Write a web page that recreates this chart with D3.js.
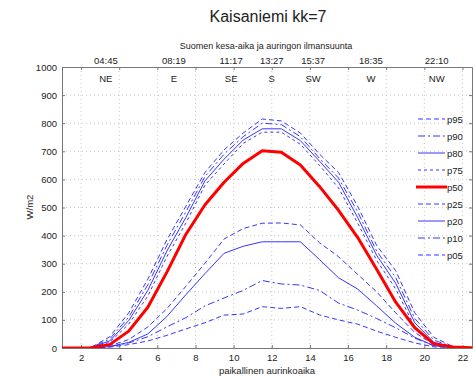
<!DOCTYPE html>
<html lang="fi">
<head>
<meta charset="UTF-8">
<title>Kaisaniemi kk=7</title>
<script src="https://cdn.jsdelivr.net/npm/d3@7"></script>
<style>
  body { margin: 0; background: #fff; }
  text { font-family: "Liberation Sans", Arial, sans-serif; fill: #222; }
</style>
</head>
<body>
<script>

// hourly values at solar time hh:30
var hours = [0.5, 1.5, 2.5, 3.5, 4.5, 5.5, 6.5, 7.5, 8.5, 9.5, 10.5, 11.5,
             12.5, 13.5, 14.5, 15.5, 16.5, 17.5, 18.5, 19.5, 20.5, 21.5, 22.5, 23.5];

var p95 = [0, 0, 1, 40, 125, 245, 385, 505, 625, 705, 765, 815, 808, 765, 690, 625, 505, 365, 275, 125, 38, 5, 0, 0];
var p90 = [0, 0, 1, 32, 110, 225, 365, 485, 610, 690, 752, 800, 795, 752, 675, 605, 485, 345, 250, 105, 28, 4, 0, 0];
var p80 = [0, 0, 1, 25, 98, 205, 345, 465, 595, 672, 740, 780, 780, 738, 665, 590, 465, 330, 230, 90, 20, 3, 0, 0];
var p75 = [0, 0, 0, 20, 85, 185, 325, 445, 580, 655, 728, 768, 768, 725, 650, 570, 445, 312, 210, 75, 14, 2, 0, 0];
var p50 = [0, 0, 1, 12, 60, 145, 270, 405, 510, 590, 657, 702, 697, 651, 575, 490, 394, 280, 163, 72, 15, 4, 1, 0];
var p25 = [0, 0, 0, 8, 30, 75, 140, 220, 302, 388, 425, 444, 445, 438, 375, 325, 262, 200, 125, 55, 12, 2, 0, 0];
var p20 = [0, 0, 0, 5, 20, 50, 112, 190, 265, 337, 362, 378, 378, 378, 315, 250, 210, 150, 88, 38, 8, 1, 0, 0];
var p10 = [0, 0, 0, 5, 18, 40, 75, 108, 150, 178, 205, 240, 228, 224, 205, 160, 135, 105, 72, 35, 8, 1, 0, 0];
var p05 = [0, 0, 0, 3, 12, 25, 45, 68, 90, 117, 121, 147, 141, 147, 118, 100, 85, 60, 38, 18, 4, 1, 0, 0];

var seriesNames = ["p95", "p90", "p80", "p75", "p50", "p25", "p20", "p10", "p05"];
var seriesValues = [p95, p90, p80, p75, p50, p25, p20, p10, p05];

var xTicks = [2, 4, 6, 8, 10, 12, 14, 16, 18, 20, 22];
var yTicks = [0, 100, 200, 300, 400, 500, 600, 700, 800, 900, 1000];

// top axis: summer time and sun direction, placed at solar time
var topLabels = ["04:45", "08:19", "11:17", "13:27", "15:37", "18:35", "22:10"];
var topSolar = [3.3, 6.87, 9.87, 12.0, 14.17, 17.2, 20.65];
var directions = ["NE", "E", "SE", "S", "SW", "W", "NW"];

var w = 476, h = 377;
var margin = {left: 62, right: 4, top: 67, bottom: 29};

var blue = "#3535ff";
var styles = {
    p95: {dash: "5,3", color: blue, width: 1},
    p90: {dash: "7,3,2,3", color: blue, width: 1},
    p80: {dash: null, color: blue, width: 1},
    p75: {dash: "3,3", color: blue, width: 1},
    p50: {dash: null, color: "#ff0000", width: 3},
    p25: {dash: "5,3", color: blue, width: 1},
    p20: {dash: null, color: blue, width: 1},
    p10: {dash: "7,3,2,3", color: blue, width: 1},
    p05: {dash: "5,3", color: blue, width: 1}
};

var svg = d3.select("body").append("svg")
    .attr("width", w)
    .attr("height", h);

var x = d3.scaleLinear().domain([1, 22.5]).range([margin.left, w - margin.right]);
var y = d3.scaleLinear().domain([0, 1000]).range([h - margin.bottom, margin.top]);

svg.append("defs").append("clipPath").attr("id", "plotclip")
    .append("rect")
    .attr("x", x(1)).attr("y", y(1000))
    .attr("width", x(22.5) - x(1)).attr("height", y(0) - y(1000));

// grid
var grid = svg.append("g").attr("stroke", "#c8c8c8").attr("stroke-dasharray", "1,3");
grid.selectAll(".gx").data(xTicks).enter().append("line")
    .attr("x1", d => x(d)).attr("x2", d => x(d))
    .attr("y1", y(0)).attr("y2", y(1000));
grid.selectAll(".gy").data(yTicks.slice(1, -1)).enter().append("line")
    .attr("x1", x(1)).attr("x2", x(22.5))
    .attr("y1", d => y(d)).attr("y2", d => y(d));

// axes
var xAxis = svg.append("g")
    .attr("transform", "translate(0," + y(0) + ")")
    .call(d3.axisBottom(x).tickValues(xTicks).tickSize(-3).tickPadding(6).tickSizeOuter(0));
var xTop = svg.append("g")
    .attr("transform", "translate(0," + y(1000) + ")")
    .call(d3.axisTop(x).tickValues(xTicks).tickSize(-3).tickFormat("").tickSizeOuter(0));
var yAxis = svg.append("g")
    .attr("transform", "translate(" + x(1) + ",0)")
    .call(d3.axisLeft(y).tickValues(yTicks).tickFormat(d3.format("d"))
        .tickSize(-3).tickPadding(5).tickSizeOuter(0));
var yRight = svg.append("g")
    .attr("transform", "translate(" + x(22.5) + ",0)")
    .call(d3.axisRight(y).tickValues(yTicks).tickSize(-3).tickFormat("").tickSizeOuter(0));

[xAxis, xTop, yAxis, yRight].forEach(function (g) {
    g.selectAll("path").attr("stroke", "#777");
    g.selectAll("line").attr("stroke", "#777");
    g.selectAll("text").attr("font-size", "9.5px").attr("fill", "#222")
        .attr("font-family", "Liberation Sans, Arial, sans-serif");
});

// curves
var line = d3.line()
    .x((d, i) => x(hours[i]))
    .y(d => y(d));

var plot = svg.append("g").attr("clip-path", "url(#plotclip)");
// red median drawn last so it sits on top
var order = [0, 1, 2, 3, 5, 6, 7, 8, 4];
order.forEach(function (k) {
    var s = styles[seriesNames[k]];
    plot.append("path")
        .datum(seriesValues[k])
        .attr("d", line)
        .attr("fill", "none")
        .attr("stroke", s.color)
        .attr("stroke-width", s.width)
        .attr("stroke-dasharray", s.dash)
        .attr("stroke-linejoin", "round");
});

// top labels
var topG = svg.append("g");
topG.selectAll(".tl").data(topLabels).enter().append("text")
    .attr("x", (d, i) => x(topSolar[i]))
    .attr("y", 64)
    .attr("text-anchor", "middle")
    .attr("font-size", "9.5px")
    .text(d => d);
topG.selectAll(".dir").data(directions).enter().append("text")
    .attr("x", (d, i) => x(topSolar[i]))
    .attr("y", 82)
    .attr("text-anchor", "middle")
    .attr("font-size", "9.5px")
    .text(d => d);

// titles
svg.append("text")
    .attr("x", 268).attr("y", 22)
    .attr("text-anchor", "middle")
    .attr("font-size", "16px")
    .text("Kaisaniemi kk=7");
svg.append("text")
    .attr("x", 266).attr("y", 49)
    .attr("text-anchor", "middle")
    .attr("font-size", "9px")
    .text("Suomen kesa-aika ja auringon ilmansuunta");
svg.append("text")
    .attr("x", 267).attr("y", 374)
    .attr("text-anchor", "middle")
    .attr("font-size", "9.5px")
    .text("paikallinen aurinkoaika");
svg.append("text")
    .attr("transform", "translate(33," + 207 + ") rotate(-90)")
    .attr("text-anchor", "middle")
    .attr("font-size", "9.5px")
    .text("W/m2");

// legend
var legend = svg.append("g").attr("transform", "translate(418,119)");
seriesNames.forEach(function (name, i) {
    var s = styles[name];
    var row = legend.append("g").attr("transform", "translate(0," + (i * 17) + ")");
    row.append("line")
        .attr("x1", name === "p50" ? -2 : 0).attr("x2", name === "p50" ? 29 : 27)
        .attr("y1", 0).attr("y2", 0)
        .attr("stroke", s.color)
        .attr("stroke-width", s.width)
        .attr("stroke-dasharray", s.dash);
    row.append("text")
        .attr("x", 29).attr("y", 3.5)
        .attr("font-size", "9.5px")
        .text(name);
});

</script>
</body>
</html>
